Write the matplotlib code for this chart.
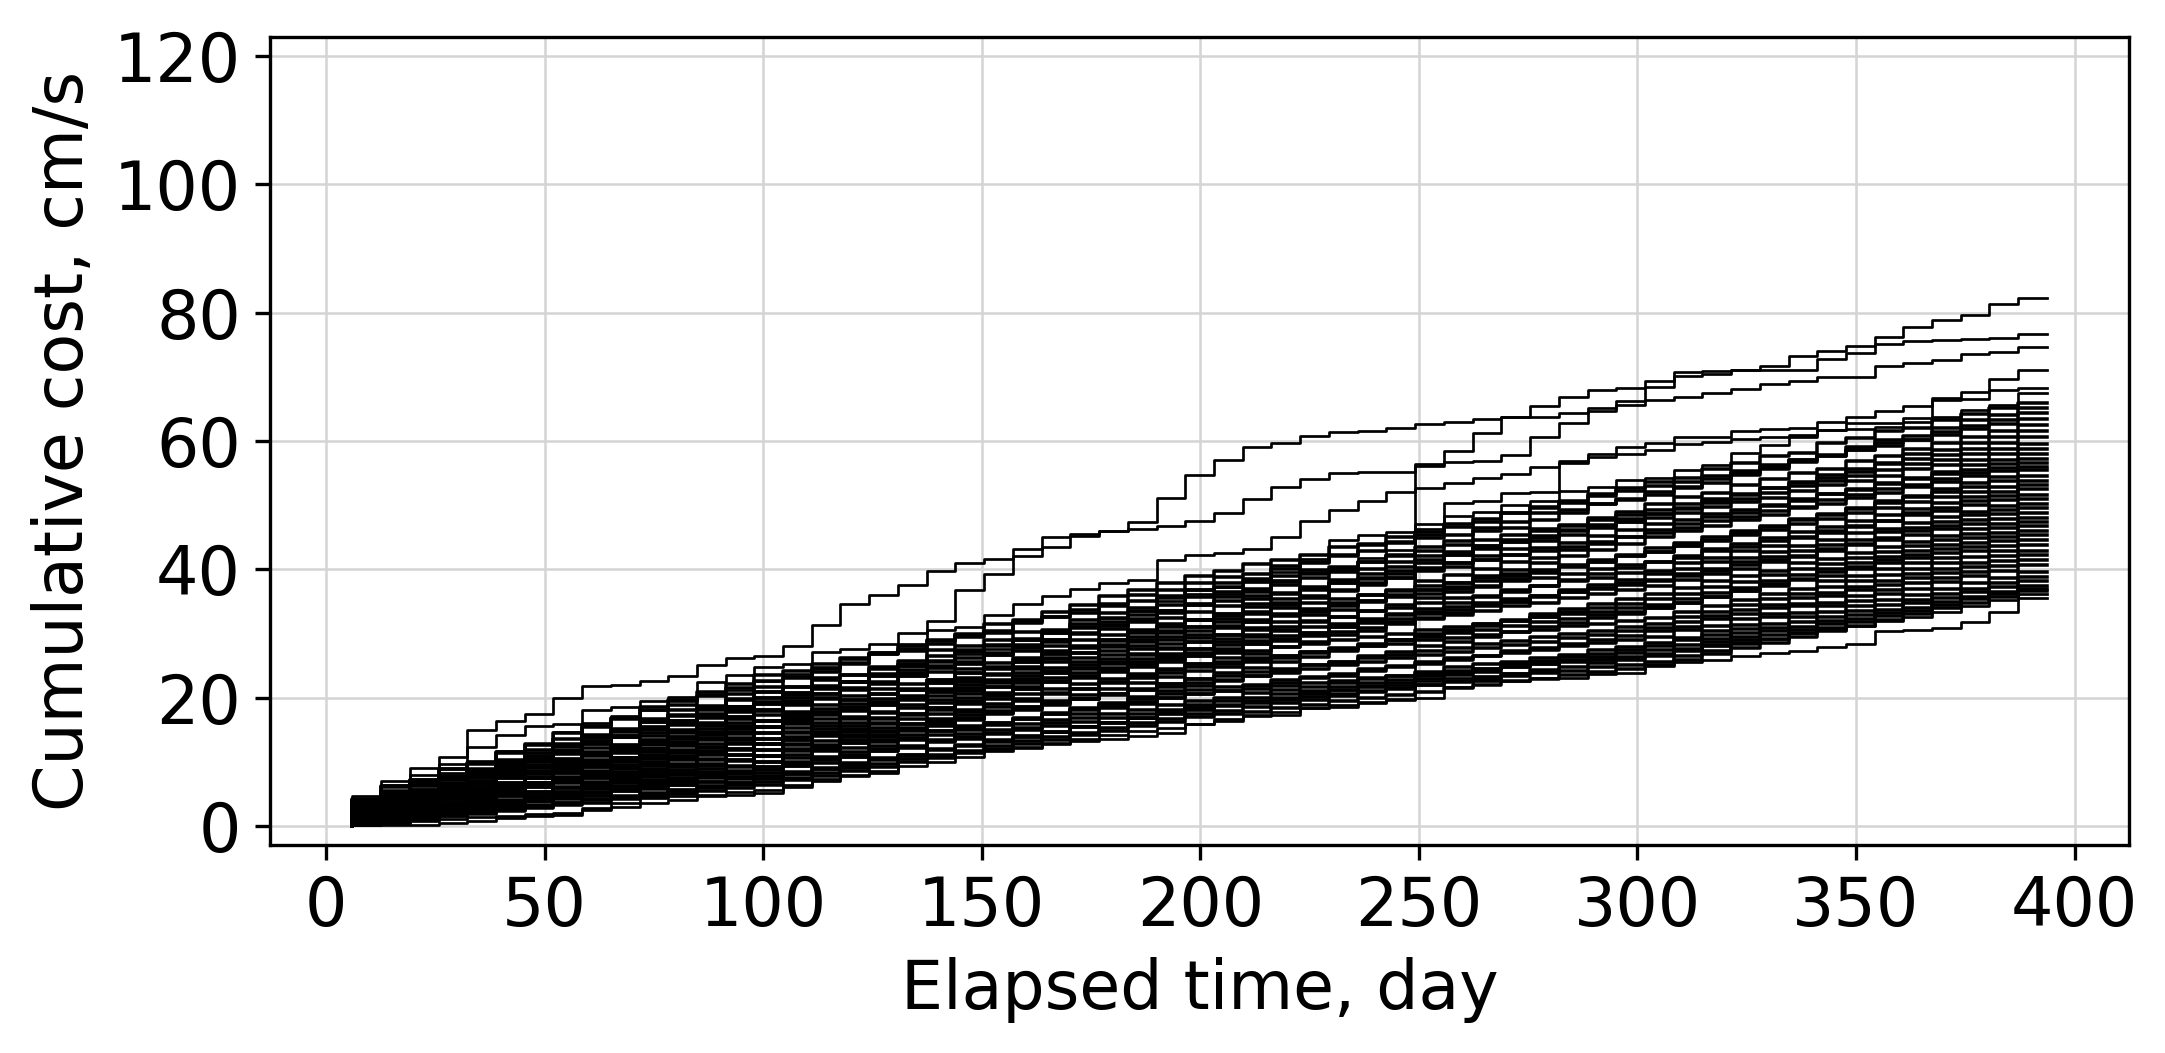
import numpy as np
import matplotlib.pyplot as plt

# days where the cost steps
step_days = [6.0, 12.6, 19.2, 25.8, 32.3, 38.9, 45.5, 52.0, 58.6, 65.2, 71.8, 78.3, 84.9, 91.5, 98.0,
             104.6, 111.2, 117.7, 124.3, 130.9, 137.5, 144.0, 150.6, 157.2, 163.7, 170.3, 176.9, 183.4,
             190.0, 196.6, 203.2, 209.7, 216.3, 222.9, 229.4, 236.0, 242.6, 249.1, 255.7, 262.3, 268.9,
             275.4, 282.0, 288.6, 295.1, 301.7, 308.3, 314.8, 321.4, 328.0, 334.6, 341.1, 347.7, 354.3,
             360.8, 367.4, 374.0, 380.5, 387.1, 393.7]

# curves that stand out, cumulative cost after each step (cm/s)
line_a = [4.6, 7.0, 9.0, 10.7, 14.9, 16.4, 17.5, 19.9, 21.8, 22.0, 22.5, 23.4, 25.0, 26.2, 26.5, 28.1,
          31.3, 34.6, 36.0, 37.6, 39.7, 41.0, 41.6, 43.2, 45.0, 45.5, 46.0, 47.4, 51.1, 54.7, 57.0, 59.1,
          59.7, 60.8, 61.4, 61.5, 62.0, 62.7, 63.0, 63.5, 63.8, 65.4, 66.9, 68.0, 68.3, 69.3, 70.7, 70.9,
          71.1, 71.7, 73.2, 74.1, 74.8, 76.2, 77.8, 78.9, 79.6, 81.3, 82.3]
line_b = [4.2, 6.4, 7.9, 9.6, 12.3, 14.1, 15.6, 15.9, 18.1, 18.6, 19.4, 20.1, 22.4, 23.5, 24.8, 25.3,
          27.1, 27.6, 28.3, 30.0, 32.0, 36.7, 39.3, 42.0, 43.5, 45.2, 46.0, 46.2, 46.8, 47.6, 48.8, 50.9,
          52.9, 54.0, 55.0, 55.2, 55.2, 56.1, 56.8, 56.9, 57.8, 60.6, 62.8, 65.1, 66.2, 68.4, 70.2, 70.5,
          71.0, 71.1, 71.1, 72.8, 73.7, 75.2, 75.6, 75.8, 75.9, 76.1, 76.7]
line_d = [3.4, 5.0, 6.9, 8.2, 10.1, 11.6, 12.8, 14.6, 16.0, 17.1, 18.0, 19.5, 20.6, 21.2, 22.5, 23.6,
          24.8, 26.0, 27.1, 28.4, 30.5, 31.0, 32.9, 34.6, 35.8, 36.9, 37.8, 38.3, 41.5, 42.2, 42.5, 43.2,
          45.1, 47.6, 49.3, 50.7, 52.1, 52.6, 53.5, 54.2, 54.9, 56.0, 56.9, 58.0, 59.1, 59.7, 60.6, 60.6,
          61.5, 61.8, 62.0, 63.0, 63.8, 64.6, 65.4, 66.7, 67.7, 69.6, 71.0]
line_e = [3.8, 5.1, 6.2, 7.6, 8.5, 9.9, 11.0, 12.3, 13.4, 14.2, 15.6, 16.5, 17.4, 18.7, 19.5, 20.4,
          21.8, 22.6, 23.5, 24.9, 25.7, 26.8, 27.6, 29.0, 30.1, 31.2, 32.4, 33.5, 35.0, 36.1, 37.2, 38.0,
          39.5, 41.6, 44.6, 45.3, 45.8, 47.0, 50.3, 50.7, 51.9, 52.1, 56.5, 57.5, 58.0, 58.6, 59.6, 59.9,
          60.3, 60.6, 61.0, 61.7, 62.8, 62.8, 63.6, 66.4, 66.6, 68.0, 68.2]
line_f = [2.9, 4.0, 5.3, 6.1, 7.4, 8.2, 9.5, 10.6, 11.4, 12.7, 13.5, 14.8, 15.9, 16.6, 17.9, 19.0,
          20.1, 21.4, 22.2, 23.5, 24.6, 25.3, 26.8, 27.9, 29.2, 30.0, 31.4, 32.3, 33.6, 34.8, 36.1, 37.0,
          38.4, 39.5, 40.3, 41.8, 43.0, 46.2, 48.3, 49.0, 50.0, 50.6, 52.2, 52.8, 53.9, 54.3, 55.5, 56.2,
          58.2, 59.3, 60.7, 61.7, 61.9, 62.2, 63.0, 63.8, 64.8, 65.6, 67.5]
line_j = [0.1, 0.1, 0.2, 0.5, 0.8, 1.2, 1.5, 1.7, 2.7, 3.6, 4.3, 4.6, 4.8, 4.8, 5.1, 6.1,
          7.3, 7.7, 8.3, 10.5, 11.0, 11.5, 12.0, 12.3, 12.8, 13.2, 13.6, 14.0, 14.5, 15.8, 16.3, 17.1,
          17.3, 18.4, 18.6, 19.1, 19.7, 56.4, 58.5, 61.3, 63.7, 63.7, 64.4, 64.7, 65.6, 66.4, 66.9, 67.5,
          68.1, 68.9, 69.3, 70.0, 70.0, 71.7, 72.1, 72.7, 73.5, 73.8, 74.6]
line_k = [0.2, 0.4, 0.7, 1.0, 1.3, 1.5, 1.8, 2.0, 2.4, 2.9, 3.5, 4.0, 4.6, 5.2, 5.6, 6.4,
          7.0, 7.9, 8.6, 9.3, 10.0, 10.8, 11.6, 12.1, 12.9, 13.5, 14.1, 14.8, 15.2, 15.9, 16.6, 17.2,
          17.8, 18.3, 18.8, 19.3, 19.6, 19.9, 21.7, 22.6, 22.6, 23.1, 23.1, 23.7, 23.9, 24.9, 25.5, 25.8,
          26.4, 26.9, 27.3, 27.9, 28.4, 30.4, 30.5, 30.8, 31.8, 33.4, 35.5]
line_l = [0.5, 0.9, 1.2, 1.7, 2.0, 2.6, 3.0, 3.5, 4.1, 4.6, 5.0, 5.7, 6.3, 6.8, 7.4, 8.1,
          8.9, 9.5, 10.4, 11.0, 11.9, 12.6, 13.3, 14.1, 14.7, 15.5, 16.2, 16.8, 17.5, 18.1, 18.8, 19.4,
          20.0, 20.5, 21.1, 21.6, 22.0, 22.5, 23.0, 23.4, 23.9, 24.3, 25.8, 25.8, 26.3, 26.8, 27.6, 28.1,
          28.6, 29.2, 30.0, 30.6, 31.2, 31.9, 32.6, 33.3, 34.2, 35.2, 36.2]

# the rest of the bundle: cost on the first step, then cost added at each later step
bulk_first = [3.2, 4.0, 2.1, 3.6, 1.5, 2.8, 4.2, 0.9, 3.0, 2.5, 1.8, 3.8, 1.2, 2.6, 0.6, 3.3, 2.0, 1.4, 3.9, 0.4,
              2.3, 1.0, 2.9, 1.6, 0.7, 3.5, 1.9, 0.3, 2.7, 1.1, 2.2, 0.5, 1.7, 0.8, 1.3, 0.2, 2.4, 0.6, 1.5, 0.3]
bulk_steps = [
    [1.5, 0.8, 2.1, 1.0, 1.4, 0.6, 1.9, 1.2, 0.9, 1.6, 1.1, 0.7, 1.8, 1.0,
     0.8, 1.4, 0.5, 1.2, 1.0, 1.7, 0.6, 0.9, 1.3, 0.4, 1.5, 1.1, 0.7, 1.6, 1.2,
     1.2, 0.6, 1.5, 0.9, 1.1, 1.8, 0.5, 1.0, 1.3, 0.7, 1.4, 0.8, 1.2, 1.0, 0.9, 1.0,
     0.7, 1.3, 0.9, 1.1, 0.5, 1.6, 0.8, 1.0, 0.6, 1.2, 0.9, 1.0, 0.8],
    [2.2, 1.0, 1.6, 0.9, 1.8, 1.3, 0.7, 2.0, 1.1, 1.5, 0.8, 1.4, 1.2, 1.1,
     0.6, 1.3, 0.9, 1.5, 0.4, 1.1, 1.0, 0.7, 1.6, 0.8, 1.2, 0.9, 1.4, 0.8, 1.1,
     0.9, 0.5, 1.2, 0.7, 1.0, 0.6, 1.3, 0.8, 0.4, 1.1, 0.9, 1.4, 0.6, 0.8, 0.7, 0.8,
     1.1, 0.8, 1.5, 0.9, 1.2, 0.6, 1.4, 1.0, 0.7, 1.3, 1.1, 0.9, 1.1],
    [1.3, 0.9, 1.6, 0.6, 1.2, 1.5, 0.8, 1.1, 1.4, 0.7, 1.3, 1.0, 1.5, 1.1,
     1.0, 1.4, 0.7, 1.2, 0.9, 1.6, 0.5, 1.3, 1.1, 0.8, 1.5, 1.0, 1.2, 0.9, 1.2,
     1.3, 0.8, 1.1, 1.6, 0.7, 1.2, 1.0, 1.4, 0.9, 1.5, 0.6, 1.2, 1.1, 1.3, 0.9, 1.1,
     0.8, 1.2, 0.6, 1.0, 1.3, 0.7, 0.9, 1.1, 0.5, 1.2, 0.9, 1.0, 1.0],
    [1.1, 1.9, 0.8, 1.5, 1.2, 1.7, 0.9, 1.4, 1.0, 1.6, 1.3, 0.7, 1.8, 1.2,
     1.4, 0.9, 1.2, 1.6, 0.8, 1.3, 1.0, 1.5, 0.7, 1.2, 1.1, 1.4, 0.9, 1.2, 1.1,
     0.7, 1.1, 0.6, 0.9, 1.2, 0.5, 1.0, 0.8, 1.3, 0.7, 0.9, 1.0, 0.6, 1.1, 0.8, 0.8,
     0.6, 1.0, 0.7, 0.9, 0.5, 1.1, 0.8, 0.6, 1.0, 0.7, 0.9, 0.8, 0.8],
    [0.9, 1.3, 0.6, 1.2, 1.0, 1.5, 0.8, 1.1, 0.7, 1.4, 1.0, 1.2, 0.9, 1.2,
     1.2, 0.7, 1.4, 1.0, 0.8, 1.3, 1.1, 0.6, 1.5, 0.9, 1.2, 1.0, 1.3, 0.8, 1.0,
     1.0, 1.5, 0.8, 1.3, 1.1, 0.9, 1.6, 1.2, 0.7, 1.4, 1.0, 1.3, 0.9, 1.2, 1.0, 1.1,
     1.1, 0.7, 1.2, 0.9, 1.0, 0.6, 1.3, 0.8, 1.1, 0.9, 1.0, 0.8, 1.0],
    [1.6, 0.9, 1.3, 1.1, 1.8, 0.7, 1.4, 1.2, 1.0, 1.5, 0.8, 1.3, 1.2, 1.3,
     0.8, 1.1, 0.6, 1.0, 0.9, 1.3, 0.5, 0.9, 1.2, 0.7, 1.0, 0.8, 1.1, 0.6, 0.9,
     0.9, 1.2, 0.7, 1.0, 1.3, 0.8, 0.6, 1.1, 1.4, 0.9, 1.0, 0.7, 1.2, 0.8, 1.0, 0.7,
     1.0, 1.3, 0.7, 1.1, 0.8, 1.2, 0.9, 1.0, 1.4, 0.6, 1.1, 0.9, 0.9],
    [1.8, 1.2, 1.6, 1.0, 1.5, 1.3, 1.9, 0.9, 1.4, 1.7, 1.1, 1.3, 1.2, 1.4,
     0.7, 1.1, 0.9, 0.6, 1.2, 0.8, 1.0, 0.5, 1.3, 0.9, 0.7, 1.0, 0.8, 0.9, 0.8,
     0.6, 0.9, 0.7, 1.0, 0.5, 0.8, 1.1, 0.6, 0.9, 0.7, 0.8, 1.0, 0.6, 0.8, 0.7, 0.8,
     0.9, 0.6, 1.1, 0.8, 1.0, 0.7, 0.9, 1.2, 0.8, 0.6, 1.0, 0.9, 0.9],
    [0.7, 1.2, 0.9, 1.0, 0.6, 1.3, 0.8, 1.1, 1.0, 0.9, 1.2, 0.7, 1.1, 1.1,
     1.3, 0.8, 1.5, 1.0, 1.2, 0.7, 1.4, 1.1, 0.9, 1.6, 1.0, 1.2, 0.8, 1.1, 0.9,
     1.2, 0.9, 1.4, 1.0, 1.3, 0.8, 1.1, 1.5, 0.7, 1.2, 1.0, 1.3, 0.9, 1.1, 1.0, 1.2,
     0.8, 1.0, 0.6, 0.9, 1.1, 0.7, 0.8, 1.0, 0.9, 0.6, 0.9, 0.8, 0.9],
    [1.4, 0.8, 1.2, 1.5, 0.9, 1.1, 1.3, 1.0, 1.6, 0.7, 1.2, 1.1, 1.0, 1.2,
     1.0, 1.5, 0.9, 1.2, 1.3, 0.8, 1.4, 1.1, 0.7, 1.3, 1.2, 1.0, 1.1, 1.0, 1.1,
     0.8, 0.6, 1.0, 0.7, 0.9, 0.5, 1.1, 0.8, 0.7, 0.9, 0.6, 1.0, 0.8, 0.7, 0.6, 0.7,
     0.7, 1.0, 0.8, 0.6, 1.1, 0.9, 0.7, 0.8, 1.0, 0.6, 0.9, 0.8, 0.8],
    [1.1, 0.8, 1.3, 1.0, 0.9, 1.4, 0.7, 1.2, 1.0, 1.1, 0.8, 1.3, 1.0, 1.1,
     0.6, 1.0, 0.8, 0.9, 0.7, 1.1, 0.5, 0.9, 1.0, 0.8, 0.7, 1.0, 0.9, 0.8, 0.9,
     1.1, 0.9, 1.3, 0.7, 1.0, 1.2, 0.8, 1.4, 0.9, 1.0, 1.1, 0.6, 1.2, 1.0, 1.1, 1.0,
     0.9, 1.1, 0.7, 1.0, 0.8, 1.2, 0.6, 0.9, 1.0, 0.8, 1.1, 0.8, 0.9],
    [0.8, 1.1, 0.9, 1.2, 0.7, 1.0, 1.3, 0.8, 1.0, 0.9, 1.1, 0.8, 1.0, 1.0,
     1.2, 1.0, 1.4, 0.8, 1.3, 1.1, 0.9, 1.5, 1.0, 1.2, 0.9, 1.3, 1.1, 0.9, 1.1,
     0.9, 1.1, 0.7, 1.0, 0.8, 1.2, 0.9, 1.0, 0.6, 1.1, 0.9, 1.0, 0.8, 1.1, 0.9, 0.9,
     0.7, 0.9, 0.6, 0.8, 1.0, 0.7, 0.8, 0.9, 0.6, 0.8, 0.7, 0.9, 0.8],
    [1.5, 1.1, 1.3, 0.9, 1.6, 1.2, 1.0, 1.4, 1.1, 1.3, 0.9, 1.2, 1.3, 1.2,
     0.9, 1.1, 0.7, 1.0, 0.8, 1.2, 0.9, 0.6, 1.1, 1.0, 0.8, 0.9, 1.0, 0.7, 0.9,
     0.6, 0.8, 0.5, 0.9, 0.7, 0.6, 0.8, 0.7, 0.9, 0.5, 0.8, 0.7, 0.6, 0.8, 0.7, 0.7,
     0.8, 1.0, 0.7, 0.9, 0.6, 1.1, 0.8, 0.9, 0.7, 0.8, 1.0, 0.8, 0.8],
    [0.7, 1.0, 0.8, 1.1, 0.6, 0.9, 1.0, 0.8, 1.2, 0.7, 0.9, 0.8, 1.0, 0.9,
     1.1, 0.8, 1.2, 0.9, 1.3, 0.7, 1.0, 1.1, 0.9, 1.2, 0.8, 1.0, 1.1, 0.9, 1.1,
     1.0, 1.2, 0.8, 1.1, 0.9, 1.3, 1.0, 0.7, 1.2, 1.1, 0.9, 1.0, 1.2, 0.9, 1.0, 1.1,
     0.9, 0.7, 1.0, 0.8, 1.1, 0.6, 0.9, 0.8, 1.0, 0.7, 0.9, 0.8, 0.7],
    [1.2, 1.0, 1.4, 0.8, 1.1, 1.3, 0.9, 1.2, 1.0, 1.5, 0.9, 1.1, 1.0, 1.1,
     0.7, 0.9, 0.6, 1.0, 0.8, 0.7, 1.1, 0.8, 0.9, 0.6, 0.8, 0.9, 0.7, 0.9, 0.8,
     0.8, 0.7, 0.9, 0.6, 1.0, 0.8, 0.7, 0.9, 0.6, 0.8, 0.9, 0.7, 0.8, 0.7, 0.8, 0.7,
     1.0, 0.8, 1.2, 0.9, 1.1, 0.7, 1.0, 1.3, 0.8, 1.0, 0.9, 1.0, 1.0],
    [0.6, 0.9, 0.7, 1.0, 0.8, 0.5, 0.9, 0.8, 1.0, 0.7, 0.8, 0.9, 0.8, 0.8,
     1.0, 1.3, 0.8, 1.1, 1.2, 0.9, 1.0, 1.4, 0.8, 1.1, 1.0, 1.2, 0.9, 1.0, 1.0,
     1.1, 0.9, 1.0, 1.2, 0.8, 1.0, 0.9, 1.1, 1.0, 0.8, 1.2, 0.9, 1.0, 1.1, 0.8, 1.0,
     0.8, 1.0, 0.9, 0.7, 1.1, 0.8, 0.9, 0.8, 1.0, 0.7, 0.9, 0.8, 0.9],
    [1.3, 1.0, 1.5, 1.1, 0.9, 1.4, 1.2, 1.0, 1.3, 1.1, 1.2, 1.0, 1.3, 1.3,
     0.8, 0.7, 1.0, 0.9, 0.6, 0.9, 0.8, 1.0, 0.7, 0.8, 0.9, 0.7, 0.8, 0.9, 0.7,
     0.6, 0.7, 0.5, 0.8, 0.6, 0.7, 0.6, 0.8, 0.5, 0.7, 0.6, 0.7, 0.7, 0.6, 0.8, 0.7,
     0.9, 0.8, 1.0, 0.7, 0.9, 0.8, 1.0, 0.8, 0.9, 0.7, 0.9, 0.8, 0.9],
    [0.9, 0.8, 1.0, 0.9, 0.7, 1.1, 0.9, 0.8, 1.0, 0.9, 0.8, 1.0, 0.9, 0.8,
     0.8, 0.7, 0.9, 0.8, 0.6, 0.9, 0.8, 0.7, 0.9, 0.8, 0.7, 0.9, 0.8, 0.8, 0.8,
     0.9, 1.0, 0.8, 1.0, 0.9, 0.9, 1.1, 0.8, 0.9, 1.0, 0.8, 0.9, 1.0, 0.9, 0.9, 1.0,
     0.9, 1.0, 0.8, 1.0, 0.9, 0.8, 1.0, 0.9, 0.9, 1.0, 0.8, 0.9, 1.0],
    [1.3, 0.6, 1.1, 0.8, 1.5, 0.9, 0.7, 1.2, 1.0, 1.4, 0.6, 1.0, 0.8, 1.1,
     0.7, 1.3, 0.5, 1.1, 0.9, 1.4, 0.6, 0.8, 1.2, 0.7, 1.0, 1.1, 0.8, 0.9, 0.9,
     0.5, 0.8, 0.4, 0.9, 0.6, 1.0, 0.5, 0.7, 0.8, 0.4, 0.9, 0.6, 0.7, 0.5, 0.8, 0.4,
     1.2, 0.7, 1.1, 0.8, 1.4, 0.6, 1.0, 0.9, 1.2, 0.8, 1.1, 0.9, 1.0],
    [1.6, 0.8, 1.3, 0.6, 1.4, 1.1, 0.9, 1.5, 0.7, 1.2, 1.0, 1.3, 0.7, 1.0,
     0.5, 1.1, 0.9, 0.6, 1.2, 0.7, 0.4, 1.0, 0.8, 1.1, 0.6, 0.9, 0.7, 0.8, 0.7,
     0.7, 0.4, 0.8, 0.6, 0.9, 0.5, 0.7, 0.6, 0.8, 0.4, 0.7, 0.6, 0.5, 0.8, 0.6, 0.6,
     0.6, 1.0, 0.7, 0.9, 0.5, 1.1, 0.8, 0.7, 1.0, 0.6, 0.9, 0.8, 0.8],
    [0.5, 0.9, 0.6, 0.8, 0.4, 1.0, 0.7, 0.9, 0.6, 0.8, 0.7, 1.0, 0.8, 0.8,
     1.0, 0.7, 1.2, 0.9, 1.1, 0.6, 1.3, 0.8, 1.0, 1.2, 0.7, 1.0, 0.9, 1.0, 0.9,
     0.9, 0.7, 1.1, 0.8, 1.0, 0.6, 1.2, 0.9, 0.8, 1.0, 0.7, 0.9, 1.0, 0.8, 0.7, 0.9,
     0.8, 1.1, 0.7, 0.9, 1.0, 0.8, 1.2, 0.6, 0.9, 1.0, 0.8, 0.9, 1.0],
    [1.2, 0.9, 1.0, 1.3, 0.7, 1.1, 1.0, 0.8, 1.4, 0.9, 1.0, 0.9, 0.8, 1.0,
     0.6, 0.9, 0.7, 0.8, 0.5, 1.0, 0.7, 0.8, 0.6, 0.9, 0.7, 0.8, 0.7, 0.8, 0.7,
     0.7, 0.6, 0.8, 0.5, 0.9, 0.6, 0.7, 0.8, 0.6, 0.7, 0.5, 0.8, 0.7, 0.6, 0.8, 0.5,
     1.0, 0.8, 1.1, 0.7, 0.9, 1.0, 0.8, 1.2, 0.7, 0.9, 1.0, 0.9, 0.9],
    [0.8, 0.6, 1.0, 0.9, 0.7, 1.1, 0.8, 0.9, 0.6, 1.0, 0.8, 0.9, 0.7, 0.9,
     1.1, 0.8, 1.0, 1.2, 0.7, 0.9, 1.1, 0.8, 1.0, 1.3, 0.6, 1.0, 0.9, 1.0, 0.9,
     0.6, 0.7, 0.5, 0.8, 0.6, 0.7, 0.9, 0.4, 0.7, 0.6, 0.8, 0.5, 0.7, 0.6, 0.6, 0.7,
     0.9, 1.0, 0.8, 1.1, 0.7, 1.0, 0.9, 1.0, 1.2, 0.8, 0.9, 0.9, 0.9],
    [1.0, 0.8, 1.1, 0.7, 0.9, 1.0, 0.8, 0.9, 1.2, 0.7, 0.9, 0.8, 0.9, 0.8,
     0.9, 1.0, 0.7, 0.8, 1.1, 0.9, 0.6, 1.0, 0.9, 0.8, 1.0, 0.9, 0.8, 0.9, 0.9,
     0.6, 0.5, 0.7, 0.6, 0.5, 0.8, 0.6, 0.5, 0.7, 0.6, 0.6, 0.5, 0.7, 0.6, 0.5, 0.6,
     0.8, 0.7, 0.9, 0.8, 0.7, 1.0, 0.8, 0.6, 0.9, 0.8, 0.9, 0.8, 0.8],
    [0.7, 0.8, 0.6, 0.9, 0.7, 0.8, 0.6, 0.7, 0.9, 0.6, 0.8, 0.7, 0.7, 0.7,
     0.8, 0.6, 0.9, 0.7, 0.5, 0.8, 0.7, 0.9, 0.6, 0.8, 0.7, 0.8, 0.7, 0.8, 0.8,
     0.9, 0.8, 1.0, 0.7, 0.9, 0.8, 0.9, 0.7, 0.8, 1.0, 0.7, 0.9, 0.8, 0.8, 0.8, 0.8,
     0.9, 1.0, 0.8, 0.9, 1.1, 0.7, 0.9, 1.0, 0.8, 0.9, 1.0, 0.9, 0.9],
    [0.5, 0.7, 0.6, 0.8, 0.5, 0.7, 0.6, 0.8, 0.7, 0.6, 0.7, 0.5, 0.8, 0.8,
     1.0, 0.8, 1.1, 0.9, 1.0, 0.7, 1.2, 0.9, 1.0, 0.8, 1.0, 0.9, 1.0, 0.9, 0.9,
     0.7, 0.8, 0.6, 0.7, 0.8, 0.6, 0.7, 0.9, 0.6, 0.7, 0.7, 0.6, 0.8, 0.7, 0.6, 0.7,
     0.9, 1.0, 0.8, 1.1, 0.9, 0.8, 1.0, 0.9, 1.0, 0.8, 1.0, 0.9, 1.0],
    [1.1, 1.0, 0.8, 1.2, 0.9, 1.0, 0.8, 0.9, 1.1, 0.7, 0.9, 0.8, 0.8, 0.8,
     0.6, 0.7, 0.8, 0.5, 0.7, 0.6, 0.8, 0.7, 0.6, 0.7, 0.8, 0.6, 0.7, 0.7, 0.6,
     0.5, 0.4, 0.6, 0.5, 0.6, 0.4, 0.5, 0.6, 0.5, 0.4, 0.6, 0.5, 0.5, 0.4, 0.5, 0.5,
     0.9, 1.0, 0.8, 1.1, 0.9, 1.0, 0.8, 1.0, 0.9, 1.0, 1.0, 0.9, 1.0],
    [0.8, 0.7, 0.9, 0.6, 0.8, 0.9, 0.7, 0.8, 0.7, 0.9, 0.7, 0.8, 0.7, 0.8,
     0.7, 0.9, 0.8, 0.7, 0.9, 0.8, 0.6, 0.9, 0.8, 0.8, 0.7, 0.9, 0.8, 0.9, 0.8,
     0.6, 0.5, 0.7, 0.6, 0.5, 0.6, 0.7, 0.5, 0.6, 0.6, 0.5, 0.6, 0.6, 0.5, 0.5, 0.6,
     0.8, 1.0, 0.9, 1.1, 0.8, 1.0, 0.9, 1.0, 0.9, 0.8, 1.0, 1.0, 0.9],
    [0.4, 0.6, 0.7, 0.5, 0.8, 0.6, 0.7, 0.5, 0.6, 0.8, 0.6, 0.7, 0.6, 0.7,
     0.8, 0.9, 0.7, 1.0, 0.8, 0.9, 0.8, 0.7, 1.0, 0.8, 0.9, 0.8, 0.9, 0.9, 0.8,
     0.8, 0.7, 0.8, 0.9, 0.6, 0.8, 0.7, 0.9, 0.7, 0.8, 0.7, 0.8, 0.6, 0.8, 0.7, 0.8,
     0.8, 1.0, 0.9, 0.8, 0.9, 0.7, 1.0, 0.9, 0.8, 0.9, 0.9, 0.9, 0.9],
    [0.9, 0.7, 0.8, 1.0, 0.6, 0.8, 0.9, 0.7, 0.8, 0.8, 0.7, 0.8, 0.7, 0.7,
     0.8, 0.7, 0.9, 0.6, 0.8, 0.9, 0.7, 0.8, 0.7, 0.9, 0.7, 0.8, 0.7, 0.8, 0.8,
     0.4, 0.5, 0.4, 0.6, 0.4, 0.5, 0.4, 0.5, 0.4, 0.5, 0.4, 0.4, 0.5, 0.4, 0.5, 0.4,
     0.9, 1.0, 0.9, 1.0, 0.8, 1.1, 0.9, 1.0, 0.9, 0.9, 1.0, 0.9, 0.9],
    [0.6, 0.8, 0.7, 0.6, 0.8, 0.7, 0.6, 0.8, 0.7, 0.7, 0.6, 0.8, 0.7, 0.7,
     0.9, 0.7, 0.8, 0.8, 0.9, 0.7, 0.8, 0.9, 0.7, 0.8, 0.8, 0.8, 0.7, 0.9, 0.8,
     0.5, 0.6, 0.5, 0.6, 0.5, 0.5, 0.6, 0.5, 0.6, 0.5, 0.5, 0.6, 0.5, 0.5, 0.6, 0.5,
     1.0, 0.9, 1.0, 0.9, 0.8, 1.1, 0.9, 1.0, 0.9, 1.0, 0.9, 0.9, 1.0],
    [0.9, 0.7, 0.8, 0.7, 0.8, 0.6, 0.9, 0.7, 0.8, 0.7, 0.8, 0.7, 0.7, 0.7,
     0.6, 0.7, 0.6, 0.7, 0.6, 0.7, 0.6, 0.7, 0.6, 0.6, 0.7, 0.6, 0.7, 0.6, 0.6,
     0.5, 0.6, 0.5, 0.5, 0.6, 0.5, 0.6, 0.5, 0.5, 0.6, 0.5, 0.5, 0.6, 0.5, 0.5, 0.5,
     0.9, 1.0, 0.9, 0.9, 1.0, 0.8, 1.0, 0.9, 1.0, 0.9, 0.9, 1.0, 0.9],
    [0.3, 0.7, 0.4, 0.6, 0.5, 0.8, 0.3, 0.6, 0.7, 0.4, 0.6, 0.5, 0.7, 0.6,
     1.1, 0.5, 0.9, 1.2, 0.6, 0.8, 1.0, 0.7, 0.9, 0.6, 1.0, 0.8, 0.7, 0.9, 0.7,
     0.4, 0.8, 0.5, 0.7, 0.3, 0.9, 0.6, 0.5, 0.8, 0.4, 0.7, 0.6, 0.5, 0.7, 0.6, 0.7,
     0.7, 1.2, 0.8, 1.0, 0.6, 1.3, 0.9, 0.8, 1.1, 0.7, 1.0, 0.9, 0.9],
    [0.8, 0.4, 0.7, 0.5, 0.9, 0.3, 0.6, 0.8, 0.5, 0.7, 0.4, 0.6, 0.5, 0.6,
     0.6, 1.0, 0.5, 0.9, 0.7, 1.1, 0.4, 0.8, 0.7, 0.9, 0.6, 0.8, 0.7, 0.8, 0.6,
     0.6, 0.3, 0.7, 0.5, 0.4, 0.8, 0.5, 0.6, 0.3, 0.7, 0.5, 0.4, 0.6, 0.5, 0.4, 0.5,
     1.1, 0.7, 1.0, 0.8, 1.2, 0.6, 1.0, 0.9, 1.1, 0.8, 0.9, 1.0, 0.9],
    [0.6, 0.4, 0.7, 0.5, 0.6, 0.3, 0.8, 0.5, 0.6, 0.7, 0.4, 0.6, 0.5, 0.7,
     0.7, 0.9, 0.5, 0.8, 0.6, 1.0, 0.7, 0.5, 0.9, 0.7, 0.8, 0.6, 0.7, 0.8, 0.6,
     0.5, 0.7, 0.4, 0.6, 0.5, 0.8, 0.4, 0.6, 0.7, 0.5, 0.4, 0.6, 0.5, 0.7, 0.5, 0.6,
     0.8, 1.1, 0.9, 1.2, 0.7, 1.0, 0.9, 1.1, 0.8, 1.0, 0.9, 0.9, 0.9],
    [0.5, 0.7, 0.4, 0.6, 0.5, 0.7, 0.5, 0.6, 0.4, 0.7, 0.5, 0.6, 0.5, 0.6,
     0.6, 0.8, 0.5, 0.7, 0.6, 0.7, 0.5, 0.8, 0.6, 0.7, 0.6, 0.6, 0.7, 0.6, 0.7,
     0.6, 0.5, 0.7, 0.4, 0.6, 0.7, 0.5, 0.6, 0.5, 0.6, 0.7, 0.5, 0.6, 0.5, 0.6, 0.6,
     0.9, 0.8, 1.0, 0.7, 1.1, 0.8, 0.9, 1.0, 0.8, 0.9, 0.9, 0.9, 0.9],
    [0.3, 0.5, 0.6, 0.4, 0.5, 0.6, 0.4, 0.5, 0.6, 0.5, 0.4, 0.6, 0.5, 0.7,
     0.7, 0.8, 0.6, 0.9, 0.7, 0.8, 0.6, 0.7, 0.8, 0.7, 0.8, 0.6, 0.8, 0.8, 0.7,
     0.6, 0.5, 0.6, 0.7, 0.5, 0.6, 0.5, 0.6, 0.6, 0.5, 0.7, 0.5, 0.6, 0.5, 0.6, 0.5,
     0.8, 0.9, 1.0, 0.8, 0.9, 0.7, 1.0, 0.9, 0.8, 0.9, 0.9, 0.9, 0.9],
    [0.7, 0.5, 0.8, 0.6, 0.7, 0.5, 0.6, 0.7, 0.5, 0.6, 0.6, 0.5, 0.6, 0.6,
     0.7, 0.6, 0.7, 0.5, 0.8, 0.6, 0.7, 0.6, 0.7, 0.6, 0.6, 0.7, 0.6, 0.7, 0.6,
     0.4, 0.3, 0.5, 0.4, 0.3, 0.4, 0.5, 0.3, 0.4, 0.4, 0.3, 0.4, 0.4, 0.4, 0.3, 0.5,
     0.8, 1.0, 0.8, 0.9, 0.7, 1.0, 0.9, 0.8, 1.0, 0.8, 0.9, 0.8, 0.9],
    [0.3, 0.5, 0.4, 0.6, 0.3, 0.5, 0.4, 0.5, 0.4, 0.5, 0.4, 0.5, 0.5, 0.5,
     0.6, 0.8, 0.7, 0.6, 0.8, 0.7, 0.6, 0.8, 0.7, 0.7, 0.6, 0.8, 0.7, 0.7, 0.7,
     0.5, 0.6, 0.6, 0.5, 0.7, 0.5, 0.6, 0.5, 0.6, 0.6, 0.5, 0.7, 0.5, 0.6, 0.5, 0.6,
     0.8, 0.9, 0.7, 0.9, 0.8, 0.9, 0.8, 0.9, 0.8, 0.9, 0.8, 0.8, 0.9],
    [0.4, 0.5, 0.3, 0.5, 0.4, 0.6, 0.4, 0.5, 0.4, 0.5, 0.4, 0.4, 0.5, 0.4,
     0.7, 0.6, 0.8, 0.7, 0.6, 0.8, 0.7, 0.7, 0.6, 0.8, 0.7, 0.7, 0.7, 0.8, 0.7,
     0.4, 0.5, 0.4, 0.5, 0.4, 0.5, 0.5, 0.4, 0.5, 0.4, 0.5, 0.5, 0.4, 0.5, 0.4, 0.5,
     0.8, 0.9, 1.0, 0.8, 0.9, 0.8, 1.0, 0.9, 0.8, 0.9, 0.9, 0.8, 0.9],
    [0.3, 0.4, 0.5, 0.3, 0.5, 0.4, 0.5, 0.4, 0.5, 0.4, 0.5, 0.4, 0.5, 0.5,
     0.7, 0.6, 0.8, 0.7, 0.7, 0.6, 0.8, 0.7, 0.7, 0.6, 0.8, 0.7, 0.7, 0.7, 0.7,
     0.5, 0.4, 0.6, 0.5, 0.5, 0.6, 0.4, 0.5, 0.6, 0.5, 0.5, 0.4, 0.6, 0.5, 0.5, 0.5,
     0.8, 1.0, 0.9, 0.8, 1.0, 0.9, 0.8, 0.9, 1.0, 0.8, 0.9, 0.9, 0.9],
]

bulk = [np.cumsum([first] + steps) for first, steps in zip(bulk_first, bulk_steps)]
lone = [line_a, line_b, line_d, line_e, line_f, line_j, line_k, line_l]

plt.rcParams['font.size'] = 16
fig = plt.figure(figsize=(7.217, 3.51), dpi=300)
ax = fig.add_axes([0.1247, 0.1975, 0.8587, 0.7674])
# cost is zero before the first step
for c in bulk:
    ax.step(step_days, np.concatenate([[0.0], c]), where='pre', color='black', lw=0.85)
for c in lone:
    ax.step(step_days, np.concatenate([[0.0], c]), where='pre', color='black', lw=0.65)
ax.grid(True, color='#d4d4d4', lw=0.6)
ax.set_axisbelow(True)
ax.set_xlim(-12.8, 412.5)
ax.set_ylim(-3, 123)
ax.set_xticks(range(0, 401, 50))
ax.set_yticks(range(0, 121, 20))
ax.set_xlabel('Elapsed time, day')
ax.set_ylabel('Cumulative cost, cm/s')
fig.savefig('out.png', dpi=300)
